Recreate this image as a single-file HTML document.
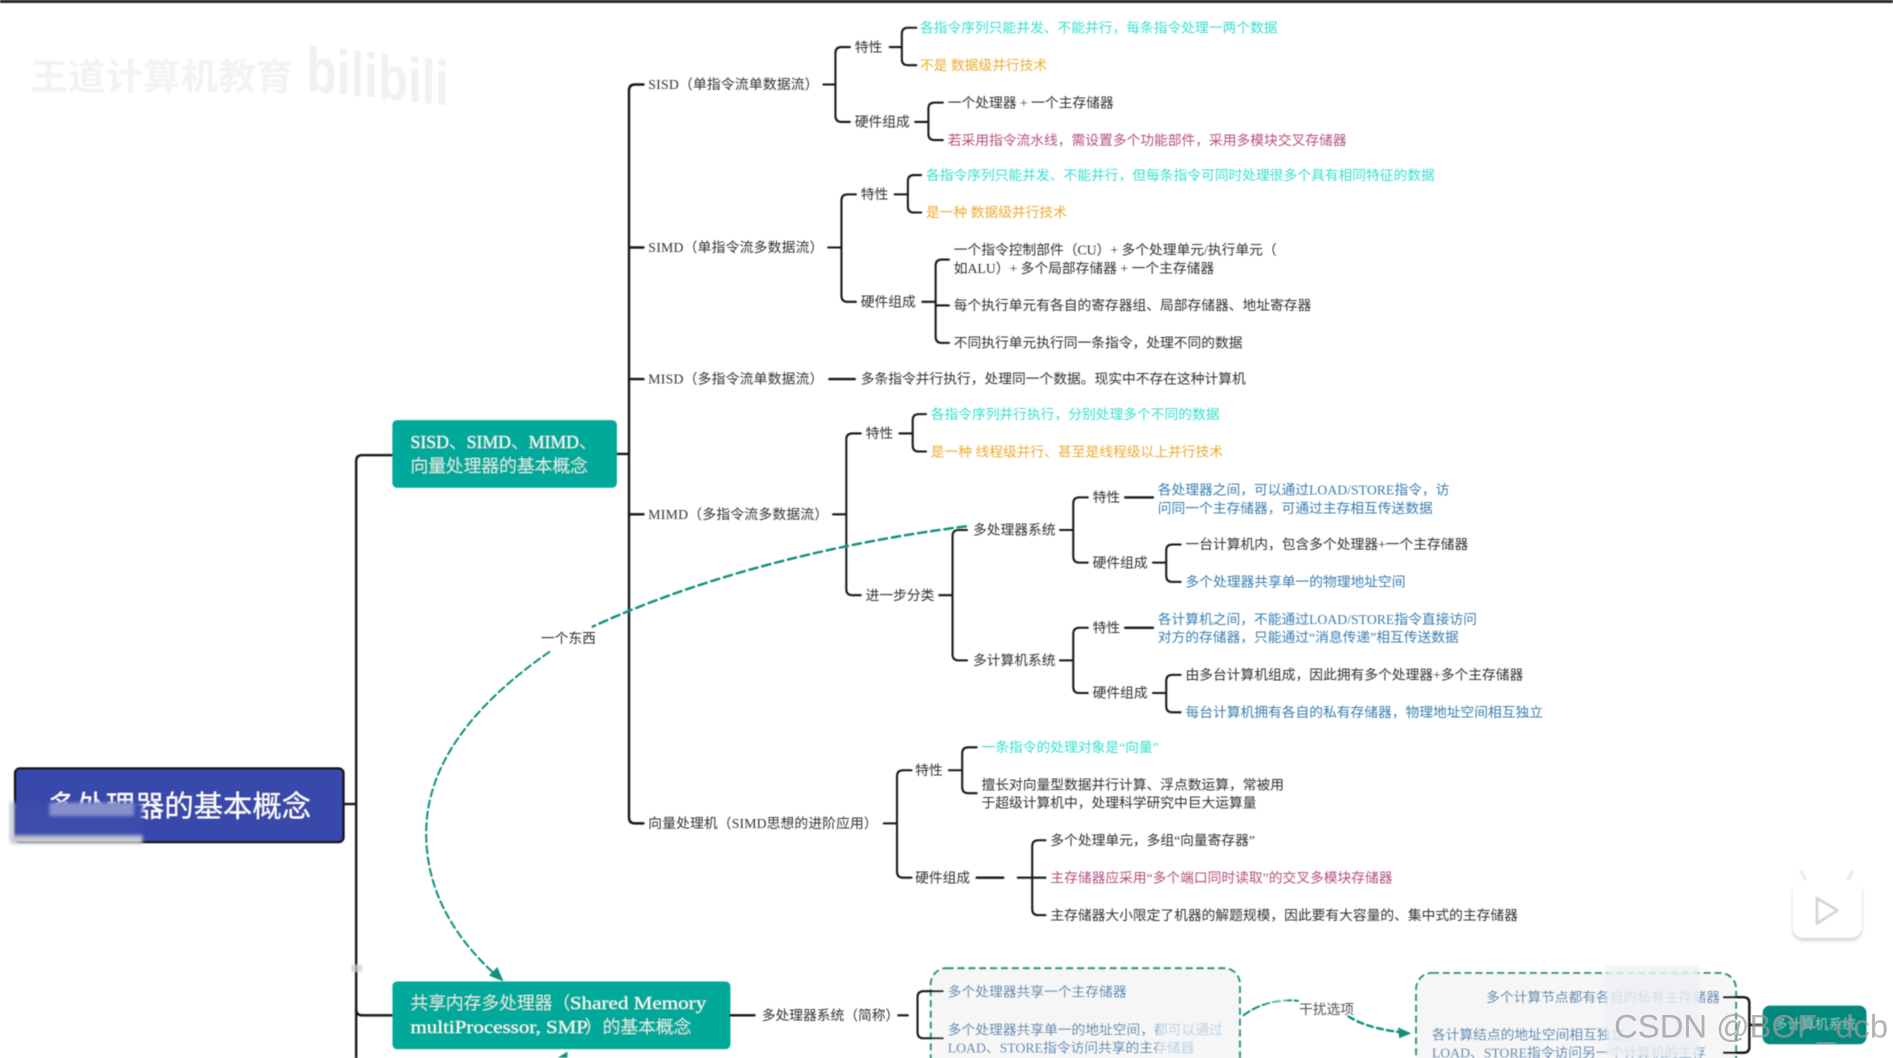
<!DOCTYPE html>
<html lang="zh"><head><meta charset="utf-8"><title>多处理器的基本概念</title>
<style>
html,body{margin:0;padding:0;background:#fff;width:1893px;height:1058px;overflow:hidden}
svg{display:block;position:absolute;left:0;top:0}
text{font-family:"Liberation Serif","Noto Sans CJK SC",serif;font-size:11.4px;fill:#333;dominant-baseline:central;transform:translateY(.7px)}
.c{fill:#38e0cf}.o{fill:#eeaa30}.m{fill:#b5507f}.b{fill:#3a7fb0}
.w{fill:#f4fffd;font-weight:300}
.l{fill:none;stroke:#161616;stroke-width:1.7;stroke-linecap:round}
.t{fill:none;stroke:#0f917d;stroke-linecap:round}
</style></head><body>
<svg width="1893" height="1058" viewBox="0 0 1568 876.35" xmlns="http://www.w3.org/2000/svg">
<defs>
<filter id="sh" x="-30%" y="-30%" width="160%" height="160%"><feGaussianBlur stdDeviation="1.5"/></filter>
<filter id="soft" x="0" y="0" width="100%" height="100%"><feGaussianBlur stdDeviation="0.35"/></filter>
</defs>
<rect x="0" y="0" width="1568" height="876.35" fill="#fff"/>
<g filter="url(#soft)">
<rect x="0" y="0" width="1568" height="2.4" fill="#222"/>

<!-- watermark -->
<text x="25" y="61" style="font-size:30px;fill:#f3f3f3;font-family:'Noto Sans CJK SC',sans-serif" font-weight="700" textLength="218" lengthAdjust="spacingAndGlyphs">王道计算机教育</text>
<g transform="translate(254,60) skewY(6)"><text x="0" y="-3" style="font-size:52px;fill:#f1f1f1;font-family:'Liberation Sans',sans-serif" font-weight="700" textLength="118" lengthAdjust="spacingAndGlyphs">bilibili</text></g>

<!-- main trunk -->
<path class="l" style="stroke-width:2" d="M325 377 H300 Q295 377 295 382 V876"/>
<path class="l" style="stroke-width:2" d="M295 836 Q295 841 300 841 H325"/>
<path class="l" style="stroke-width:2" d="M285 666 H295"/>
<rect x="291" y="799" width="9" height="6" fill="#ccc" opacity=".7"/>

<!-- second trunk -->
<path class="l" style="stroke-width:2" d="M533 70 H526 Q521 70 521 75 V677 Q521 682 526 682 H533"/>
<path class="l" style="stroke-width:2" d="M511 376 H521 M521 205 H533 M521 314 H533 M521 426 H533"/>

<!-- title -->
<rect x="12.5" y="636.5" width="272" height="61" rx="4" fill="#3949ab" stroke="#151515" stroke-width="2"/>
<text x="39" y="665.5" style="font-size:24.3px;font-family:'Noto Sans CJK SC',sans-serif;fill:#fff">多处理器的基本概念</text>
<rect x="12" y="665" width="106" height="28" fill="#3d4bab" filter="url(#sh)"/>
<rect x="41" y="665" width="70" height="11" fill="#b0b5dc" opacity=".65" filter="url(#sh)"/>
<rect x="9" y="692" width="109" height="7" fill="#c8c9d2" filter="url(#sh)"/>
<rect x="8" y="664" width="4" height="32" fill="#c8cad8" filter="url(#sh)"/>

<!-- box 1 -->
<rect x="325" y="348" width="186" height="56" rx="4" fill="#00a99a"/>
<text class="w" x="340" y="365.5" style="font-size:14.7px">SISD、SIMD、MIMD、</text>
<text class="w" x="340" y="385.3" style="font-size:14.7px">向量处理器的基本概念</text>

<!-- SISD -->
<text x="537" y="69.3" textLength="141">SISD（单指令流单数据流）</text>
<path class="l" d="M682 70 H692 M704 39 H697 Q692 39 692 44 V96 Q692 101 697 101 H704"/>
<text x="708" y="38.5">特性</text>
<text x="708" y="100.5">硬件组成</text>
<path class="l" d="M737 39 H747 M759 23 H752 Q747 23 747 28 V49 Q747 54 752 54 H759"/>
<text class="c" x="762" y="22.5">各指令序列只能并发、不能并行，每条指令处理一两个数据</text>
<text class="o" x="762" y="53.5">不是 数据级并行技术</text>
<path class="l" d="M758 101 H769 M781 85 H774 Q769 85 769 90 V111 Q769 116 774 116 H781"/>
<text x="785" y="84.5">一个处理器 + 一个主存储器</text>
<text class="m" x="785" y="115.5">若采用指令流水线，需设置多个功能部件，采用多模块交叉存储器</text>

<!-- SIMD -->
<text x="537" y="204.5" textLength="145">SIMD（单指令流多数据流）</text>
<path class="l" d="M686 205 H697 M709 161 H702 Q697 161 697 166 V245 Q697 250 702 250 H709"/>
<text x="713" y="160.5">特性</text>
<text x="713" y="249.5">硬件组成</text>
<path class="l" d="M741 161 H752 M763 145 H757 Q752 145 752 150 V171 Q752 176 757 176 H763"/>
<text class="c" x="767" y="144.5">各指令序列只能并发、不能并行，但每条指令可同时处理很多个具有相同特征的数据</text>
<text class="o" x="767" y="175.5">是一种 数据级并行技术</text>
<path class="l" d="M764 250 H775 M786 215 H780 Q775 215 775 220 V279 Q775 284 780 284 H786 M775 253 H786"/>
<text x="790" y="206.5">一个指令控制部件（CU）+ 多个处理单元/执行单元（</text>
<text x="790" y="221.5">如ALU）+ 多个局部存储器 + 一个主存储器</text>
<text x="790" y="252.5">每个执行单元有各自的寄存器组、局部存储器、地址寄存器</text>
<text x="790" y="283.5">不同执行单元执行同一条指令，处理不同的数据</text>

<!-- MISD -->
<text x="537" y="313.3" textLength="145">MISD（多指令流单数据流）</text>
<path class="l" style="stroke-width:2" d="M687 314 H708"/>
<text x="713" y="313.3">多条指令并行执行，处理同一个数据。现实中不存在这种计算机</text>

<!-- MIMD -->
<text x="537" y="425.3" textLength="149">MIMD（多指令流多数据流）</text>
<path class="l" d="M690 426 H701 M713 359 H706 Q701 359 701 364 V488 Q701 493 706 493 H713"/>
<text x="717" y="358.5">特性</text>
<text x="717" y="492.5">进一步分类</text>
<path class="l" d="M745 359 H756 M767 343 H761 Q756 343 756 348 V369 Q756 374 761 374 H767"/>
<text class="c" x="771" y="342.5">各指令序列并行执行，分别处理多个不同的数据</text>
<text class="o" x="771" y="373.5">是一种 线程级并行、甚至是线程级以上并行技术</text>
<path class="l" d="M778 493 H789 M801 439 H794 Q789 439 789 444 V542 Q789 547 794 547 H801"/>
<text x="806" y="438.5">多处理器系统</text>
<text x="806" y="546.5">多计算机系统</text>

<path class="l" d="M878 439 H889 M901 412 H894 Q889 412 889 417 V461 Q889 466 894 466 H901"/>
<text x="905" y="411.5">特性</text>
<text x="905" y="465.5">硬件组成</text>
<path class="l" style="stroke-width:2" d="M932 412 H955"/>
<text class="b" x="959" y="405.3">各处理器之间，可以通过LOAD/STORE指令，访</text>
<text class="b" x="959" y="420.3">问同一个主存储器，可通过主存相互传送数据</text>
<path class="l" d="M955 466 H966 M978 451 H971 Q966 451 966 456 V477 Q966 482 971 482 H978"/>
<text x="982" y="450.5">一台计算机内，包含多个处理器+一个主存储器</text>
<text class="b" x="982" y="481.5">多个处理器共享单一的物理地址空间</text>

<path class="l" d="M878 547 H889 M901 520 H894 Q889 520 889 525 V569 Q889 574 894 574 H901"/>
<text x="905" y="519.5">特性</text>
<text x="905" y="573.5">硬件组成</text>
<path class="l" style="stroke-width:2" d="M932 520 H955"/>
<text class="b" x="959" y="512.5">各计算机之间，不能通过LOAD/STORE指令直接访问</text>
<text class="b" x="959" y="527.5">对方的存储器，只能通过“消息传递”相互传送数据</text>
<path class="l" d="M955 574 H966 M978 559 H971 Q966 559 966 564 V585 Q966 590 971 590 H978"/>
<text x="982" y="558.5">由多台计算机组成，因此拥有多个处理器+多个主存储器</text>
<text class="b" x="982" y="589.5">每台计算机拥有各自的私有存储器，物理地址空间相互独立</text>

<!-- Vector -->
<text x="537" y="681.5" textLength="190">向量处理机（SIMD思想的进阶应用）</text>
<path class="l" d="M732 682 H743 M755 638 H748 Q743 638 743 643 V722 Q743 727 748 727 H755"/>
<text x="758" y="637.5">特性</text>
<text x="758" y="726.5">硬件组成</text>
<path class="l" d="M786 638 H797 M809 619 H802 Q797 619 797 624 V652 Q797 657 802 657 H809"/>
<text class="c" x="813" y="618.5">一条指令的处理对象是“向量”</text>
<text x="813" y="649.5">擅长对向量型数据并行计算、浮点数运算，常被用</text>
<text x="813" y="664.5">于超级计算机中，处理科学研究中巨大运算量</text>
<path class="l" style="stroke-width:2" d="M809 727 H831"/>
<path class="l" d="M843 727 H866 M866 696 H860 Q855 696 855 701 V753 Q855 758 860 758 H866"/>
<text x="870" y="695.5">多个处理单元，多组“向量寄存器”</text>
<text class="m" x="870" y="726.5">主存储器应采用“多个端口同时读取”的交叉多模块存储器</text>
<text x="870" y="757.5">主存储器大小限定了机器的解题规模，因此要有大容量的、集中式的主存储器</text>

<!-- SMP box -->
<rect x="325" y="813" width="280" height="56" rx="4" fill="#00a99a"/>
<text class="w" x="340" y="830" style="font-size:14.7px">共享内存多处理器（</text>
<text class="w" x="472" y="830" style="font-size:14.7px" textLength="113" lengthAdjust="spacingAndGlyphs">Shared Memory</text>
<text class="w" x="340" y="850" style="font-size:14.7px" textLength="147" lengthAdjust="spacingAndGlyphs">multiProcessor, SMP</text>
<text class="w" x="484.5" y="850" style="font-size:14.7px">）的基本概念</text>
<path class="l" style="stroke-width:2" d="M605 841 H625"/>
<text x="631" y="840.5">多处理器系统（简称）</text>

<!-- dashed panels -->
<rect x="771" y="802" width="256" height="90" rx="13" fill="#f6f6f6" stroke="#0f917d" stroke-width="1.6" stroke-dasharray="6 3"/>
<rect x="1173" y="806" width="265" height="90" rx="13" fill="#f6f6f6" stroke="#0f917d" stroke-width="1.6" stroke-dasharray="6 3"/>
<path class="l" d="M744 841 H752 M781 821 H765 Q760 821 760 826 V855 Q760 860 765 860 H781"/>
<text class="b" x="785" y="821">多个处理器共享一个主存储器</text>
<text class="b" x="785" y="852.5">多个处理器共享单一的地址空间，都可以通过</text>
<text class="b" x="785" y="867.5">LOAD、STORE指令访问共享的主存储器</text>
<rect x="958" y="846" width="56" height="30" fill="#f4f6f8" opacity=".7" filter="url(#sh)"/>

<text class="b" x="1231" y="825.5">多个计算节点都有各自的私有主存储器</text>
<text class="b" x="1186" y="856.5">各计算结点的地址空间相互独立，</text>
<text class="b" x="1186" y="871.5">LOAD、STORE指令访问另一个计算机的主存</text>
<rect x="1330" y="800" width="78" height="76" fill="#eef1f4" opacity=".85" filter="url(#sh)"/>
<path class="l" style="stroke-width:2" d="M1428 826 H1444 Q1449 826 1449 831 V867 Q1449 872 1444 872 H1428 M1449 849 H1460"/>
<rect x="1460" y="833" width="86" height="32" rx="6" fill="#00897b"/>
<text class="w" x="1469" y="848" style="opacity:.65">多计算机系统</text>

<!-- dashed relation curves -->
<path class="t" stroke-width="2" stroke-dasharray="7 4" d="M800 436 C 690 450 580 478 491 519"/>
<path class="t" stroke-width="1.7" stroke-dasharray="6 3.5" d="M455 540 C 390 585 353 635 353 690 C 353 740 378 778 411 808"/>
<path d="M417 813 L405 808 L412 801 Z" fill="#0f917d"/>
<text x="448" y="528.3">一个东西</text>
<path d="M470 871 L462 876 L470 876 Z" fill="#0f917d"/>

<path class="t" stroke-width="1.7" stroke-dasharray="6 3" d="M1030 841 C 1042 832 1058 827 1075 829"/>
<text x="1076" y="835.3" style="fill:#555">干扰选项</text>
<path class="t" stroke-width="2" stroke-dasharray="5 3.5" d="M1117 842 C 1130 850 1145 853 1160 855"/>
<path d="M1169 856 L1158 851 L1159 860 Z" fill="#0f917d"/>
<rect x="1032" y="822" width="34" height="8" fill="#fff" opacity=".6" filter="url(#sh)"/>

<!-- bilibili play badge -->
<rect x="1485" y="732" width="57" height="47" rx="9" fill="#cfcfcf" filter="url(#sh)"/>
<path d="M1497 732 L1492 722 M1529 732 L1534 722" stroke="#ececec" stroke-width="3" stroke-linecap="round" fill="none"/>
<rect x="1485" y="729" width="57" height="48" rx="9" fill="#fff"/>
<path d="M1505 744 L1522 754 L1505 765 Z" fill="#fff" stroke="#d6d6d6" stroke-width="2.4" stroke-linejoin="round"/>
</g>

<!-- CSDN watermark -->
<text x="1337" y="849" style="font-size:27px;fill:#9a9a9a;fill-opacity:.75;font-family:'Liberation Sans',sans-serif" textLength="227" lengthAdjust="spacingAndGlyphs">CSDN @BOF_dcb</text>
</svg>
</body></html>
